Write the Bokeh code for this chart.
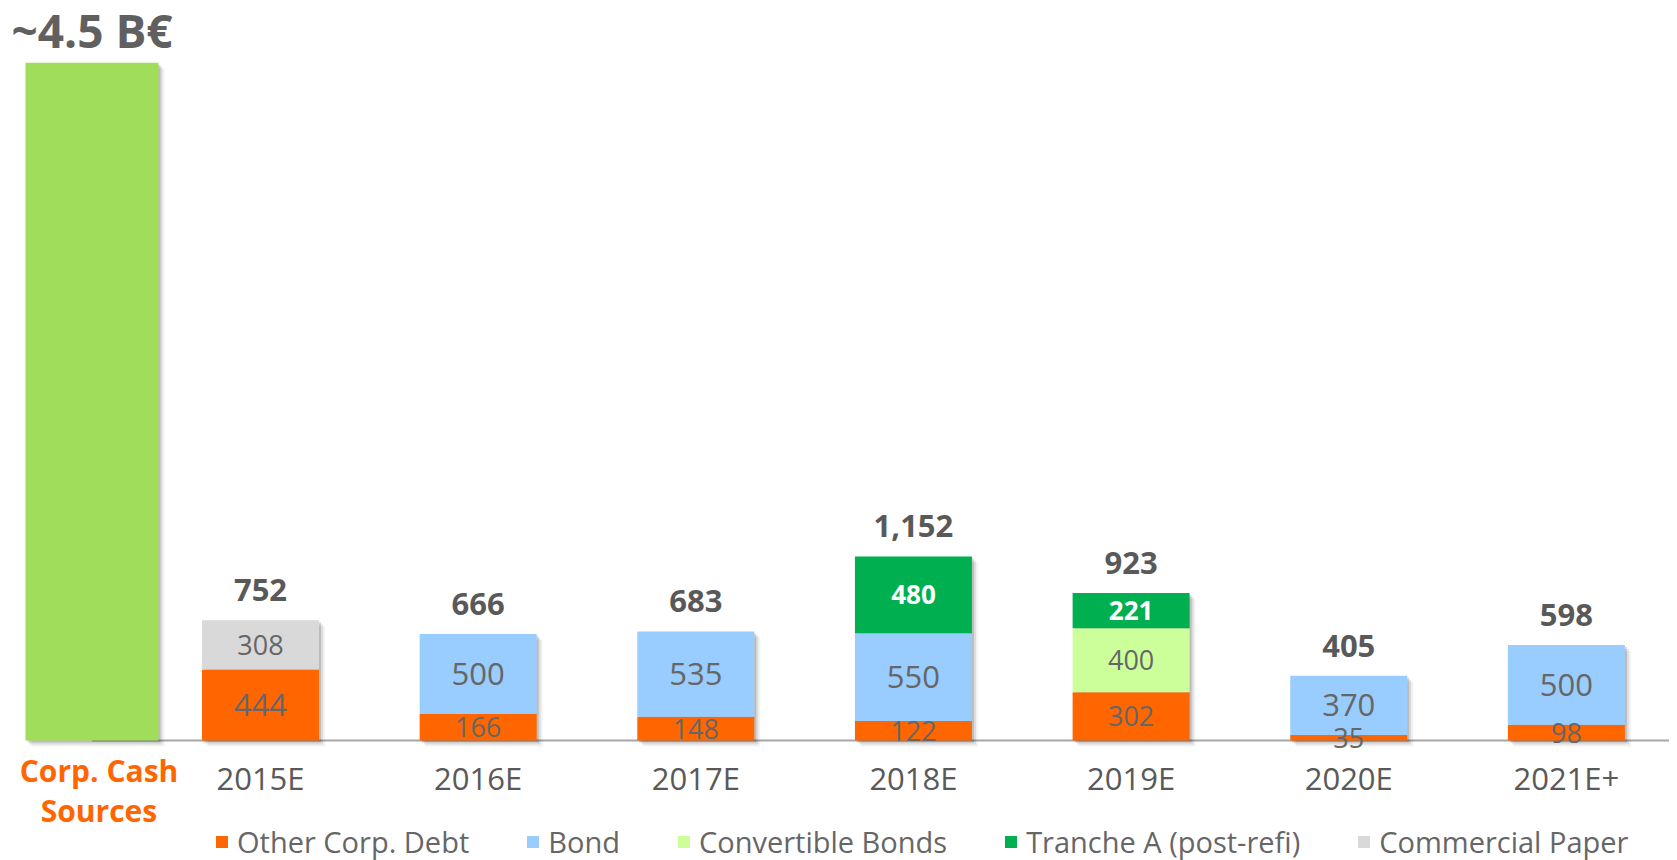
import numpy as np
from bokeh.plotting import figure
from bokeh.models import ColumnDataSource, Range1d, Legend, LegendItem
from bokeh.transform import dodge
from bokeh.core.properties import value
from bokeh.embed import file_html
from bokeh.resources import INLINE

# ---------------- data ----------------
years = ["2015E", "2016E", "2017E", "2018E", "2019E", "2020E", "2021E+"]
other_corp_debt = [444, 166, 148, 122, 302, 35, 98]
bond = [0, 500, 535, 550, 0, 370, 500]
convertible_bonds = [0, 0, 0, 0, 400, 0, 0]
tranche_a = [0, 0, 0, 480, 221, 0, 0]
commercial_paper = [308, 0, 0, 0, 0, 0, 0]
series_names = ["Other Corp. Debt", "Bond", "Convertible Bonds",
                "Tranche A (post-refi)", "Commercial Paper"]
cash_category = "Corp. Cash\nSources"
cash_value = [4500]
cash_text = ["~4.5 B€"]

# ---------------- styles ----------------
colors = ["#FF6600", "#99CCFF", "#CCFF99", "#00B050", "#D9D9D9"]
cash_color = "#A0DD5A"
seg_font = {  # per-series label font sizes (px)
    "Other Corp. Debt": [31, 27, 27, 27, 27, 27, 27],
    "Bond": [31] * 7,
    "Convertible Bonds": [27] * 7,
    "Tranche A (post-refi)": [26] * 7,
    "Commercial Paper": [27] * 7,
}
seg_bold_white = {"Tranche A (post-refi)"}
GRAY = "#595959"
FONT = "Open Sans"

W, H = 1669, 860
PX_X = 217.65          # px per category
UY = 6.26              # value units per px (debt)
UY_CASH = 6.64         # value units per px (cash bar)
ABOVE = 740
BELOW = H - ABOVE
X_START = (0 - 260) / PX_X
X_END = X_START + W / PX_X
CASH_X = (91.5 - 260) / PX_X
BAR_W = 117 / PX_X
CASH_W = 133 / PX_X

series = [other_corp_debt, bond, convertible_bonds, tranche_a, commercial_paper]
keys = [f"s{i}" for i in range(len(series))]
x = np.arange(len(years))
totals = np.sum(np.array(series), axis=0)

data = dict(x=x, years=years, total=totals, total_txt=[f"{t:,}" for t in totals])
for k, s in zip(keys, series):
    data[k] = s
src = ColumnDataSource(data)

p = figure(width=W, height=H, output_backend="svg", toolbar_location=None,
           x_range=Range1d(X_START, X_END),
           y_range=Range1d(-BELOW * UY, ABOVE * UY),
           x_axis_location=None, y_axis_location=None,
           min_border=0, outline_line_color=None)
p.extra_y_ranges = {"cash": Range1d(-BELOW * UY_CASH, ABOVE * UY_CASH)}
p.xgrid.visible = False
p.ygrid.visible = False

# baseline
p.segment(x0=[CASH_X], y0=[0], x1=[X_END], y1=[0], line_color="#A6A6A6", line_width=2)

# shadows
for d, a in [(2, 0.14), (4, 0.09), (6, 0.05)]:
    p.vbar(x=dodge("x", d / PX_X), top=dodge("total", -d * UY), bottom=-d * UY,
           width=BAR_W, fill_color="black", fill_alpha=a, line_color=None, source=src)
    p.vbar(x=[CASH_X + d / PX_X], top=[cash_value[0] - d * UY_CASH], bottom=-d * UY_CASH,
           width=CASH_W, fill_color="black", fill_alpha=a, line_color=None,
           y_range_name="cash")

# cash bar
p.vbar(x=[CASH_X], top=cash_value, bottom=0, width=CASH_W, fill_color=cash_color,
       line_color=None, y_range_name="cash")
p.text(x=[CASH_X], y=cash_value, text=cash_text, y_range_name="cash",
       text_align="center", text_baseline="middle", y_offset=-33,
       text_font=value(FONT), text_font_size="46px", text_font_style="bold",
       text_color="#606060")
p.text(x=[CASH_X], y=[0], text=[cash_category], y_range_name="cash",
       text_align="center", text_baseline="middle", x_offset=7, y_offset=50,
       text_font=value(FONT), text_font_size="30px", text_font_style="bold",
       text_color="#FF6600", text_line_height=0.98)

# stacked bars
rends = p.vbar_stack(keys, x="x", width=BAR_W, fill_color=colors, line_color=None, source=src)

# segment labels
bottom = np.zeros(len(years))
for name, k, s in zip(series_names, keys, series):
    s = np.array(s)
    mid = bottom + s / 2
    idx = np.nonzero(s)[0]
    lsrc = ColumnDataSource(dict(x=x[idx], y=mid[idx], t=[str(v) for v in s[idx]],
                                 fs=[f"{seg_font[name][i]}px" for i in idx]))
    bold = name in seg_bold_white
    p.text(x="x", y="y", text="t", source=lsrc, text_align="center",
           text_baseline="middle", text_font=value(FONT), text_font_size="fs",
           text_font_style="bold" if bold else "normal",
           text_color="white" if bold else "#666666")
    bottom = bottom + s

# totals
p.text(x="x", y="total", text="total_txt", source=src, text_align="center",
       text_baseline="middle", y_offset=-30, text_font=value(FONT),
       text_font_size="31px", text_font_style="bold", text_color=GRAY)
# category labels
p.text(x="x", y=0, text="years", source=src, text_align="center",
       text_baseline="middle", y_offset=37, text_font=value(FONT),
       text_font_size="31px", text_color=GRAY)

legend = Legend(items=[LegendItem(label=n, renderers=[r]) for n, r in zip(series_names, rends)],
                orientation="horizontal", location=(214, -1),
                glyph_width=15, glyph_height=15, label_standoff=8, spacing=56,
                padding=0, margin=0, border_line_color=None, background_fill_alpha=0,
                label_text_font=FONT, label_text_font_size="29px",
                label_text_color="#666666")
p.add_layout(legend)

open("out.html", "w").write(file_html(p, INLINE))
